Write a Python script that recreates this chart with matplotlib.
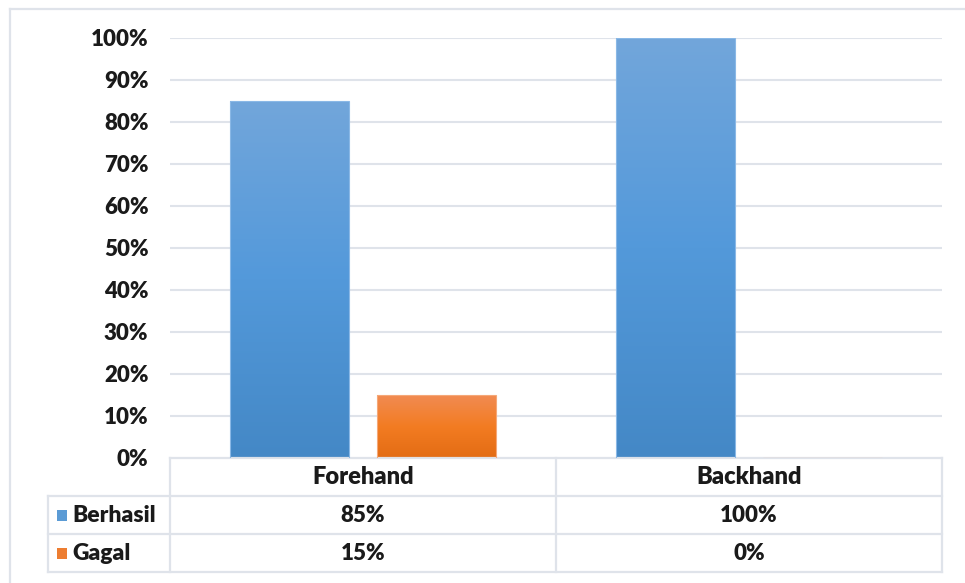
import numpy as np
import matplotlib
matplotlib.use("Agg")
import matplotlib.pyplot as plt
from matplotlib.colors import LinearSegmentedColormap
from matplotlib.patches import Rectangle
from matplotlib.lines import Line2D
import matplotlib.transforms as mtransforms

categories = ["Forehand", "Backhand"]
series_names = ["Berhasil", "Gagal"]
berhasil = [0.85, 1.00]
gagal = [0.15, 0.00]
table_values = [["85%", "100%"], ["15%", "0%"]]
yticks = [0, 0.1, 0.2, 0.3, 0.4, 0.5, 0.6, 0.7, 0.8, 0.9, 1.0]
ytick_labels = ["0%", "10%", "20%", "30%", "40%", "50%", "60%", "70%", "80%", "90%", "100%"]

FONT = "Lato"
WEIGHT = "heavy"
NUM_FS = 16
WORD_FS = 17
TXT = "#1a1a1a"
GRID = "#dfe3ea"
BLUE_STOPS = ["#4488c6", "#5399da", "#72a6db"]
ORANGE_STOPS = ["#e36c14", "#f37c22", "#f18b52"]
BLUE_KEY = "#5b9bd5"
ORANGE_KEY = "#ed7d31"

W, H = 965, 583
fig = plt.figure(figsize=(W / 100, H / 100), dpi=100)

# outer frame
fig.add_artist(Line2D([9.5 / W, 9.5 / W], [0, 1 - 8.5 / H], transform=fig.transFigure,
                      color=GRID, lw=1.6))
fig.add_artist(Line2D([9.5 / W, 1], [1 - 8.5 / H, 1 - 8.5 / H], transform=fig.transFigure,
                      color=GRID, lw=1.6))

left, right = 170 / W, 942 / W
bottom, top = (H - 458) / H, (H - 38) / H
ax = fig.add_axes([left, bottom, right - left, top - bottom])
ax.set_xlim(-0.5, 1.5)
ax.set_ylim(0, 1.0)
for s in ax.spines.values():
    s.set_visible(False)
ax.set_xticks([])
ax.set_yticks(yticks)
ax.set_yticklabels(ytick_labels, fontfamily=FONT, fontweight=WEIGHT, fontsize=NUM_FS, color=TXT)
ax.tick_params(axis="y", length=0, pad=15.5)
for y in yticks[1:]:
    ax.axhline(y, color=GRID, lw=1.5, zorder=0)

x = np.arange(len(categories))
bw = 0.307
off = 0.19


def grad_bars(bars, stops):
    cmap = LinearSegmentedColormap.from_list("g", stops)
    grad = np.linspace(0, 1, 256).reshape(-1, 1)
    for b in bars:
        h = b.get_height()
        if h <= 0:
            continue
        x0 = b.get_x()
        w = b.get_width()
        im = ax.imshow(grad, cmap=cmap, origin="lower", aspect="auto",
                       extent=(x0, x0 + w, 0, h), zorder=2)
        im.set_clip_path(b)
        b.set_facecolor("none")


b1 = ax.bar(x - off, berhasil, bw, color=BLUE_KEY, edgecolor="#8ab8e6", lw=0.8, zorder=3)
b2 = ax.bar(x + off, gagal, bw, color=ORANGE_KEY, edgecolor="#f5a878", lw=0.8, zorder=3)
grad_bars(b1, BLUE_STOPS)
grad_bars(b2, ORANGE_STOPS)
ax.set_xlim(-0.5, 1.5)
ax.set_ylim(0, 1.0)

# data table below
trans = mtransforms.blended_transform_factory(ax.transData, ax.transAxes)
ph = 420.0
rows_y = [0, -38 / ph, -76 / ph, -114 / ph]
lab_left = -122 / 772.0  # axes fraction for label column left edge
lkw = dict(color=GRID, lw=1.6, clip_on=False, solid_capstyle="projecting")

ax.add_line(Line2D([-0.5, 1.5], [rows_y[0]] * 2, transform=trans, **lkw))
for yy in rows_y[1:]:
    ax.add_line(Line2D([lab_left, 1.0], [yy] * 2, transform=ax.transAxes, **lkw))
for xv in [-0.5, 0.5, 1.5]:
    ax.add_line(Line2D([xv, xv], [rows_y[0], rows_y[3]], transform=trans, **lkw))
ax.add_line(Line2D([lab_left, lab_left], [rows_y[1], rows_y[3]], transform=ax.transAxes, **lkw))

tkw = dict(fontfamily=FONT, fontweight=WEIGHT, color=TXT,
           ha="center", va="center", clip_on=False)
for i, c in enumerate(categories):
    ax.text(x[i], (rows_y[0] + rows_y[1]) / 2, c, transform=trans, fontsize=WORD_FS, **tkw)
for r in range(2):
    yc = (rows_y[r + 1] + rows_y[r + 2]) / 2
    for i in range(len(categories)):
        ax.text(x[i], yc, table_values[r][i], transform=trans, fontsize=NUM_FS, **tkw)

key_colors = [BLUE_KEY, ORANGE_KEY]
for r, name in enumerate(series_names):
    yc = (rows_y[r + 1] + rows_y[r + 2]) / 2
    kx = lab_left + 9 / 772.0
    ax.add_patch(Rectangle((kx, yc - 5.5 / ph), 10 / 772.0, 11 / ph, transform=ax.transAxes,
                           facecolor=key_colors[r], edgecolor="none", clip_on=False))
    ax.text(lab_left + 24 / 772.0, yc, name, transform=ax.transAxes,
            fontfamily=FONT, fontweight=WEIGHT, fontsize=WORD_FS - 0.5, color=TXT,
            ha="left", va="center", clip_on=False)

fig.savefig("out.png", dpi=100)
